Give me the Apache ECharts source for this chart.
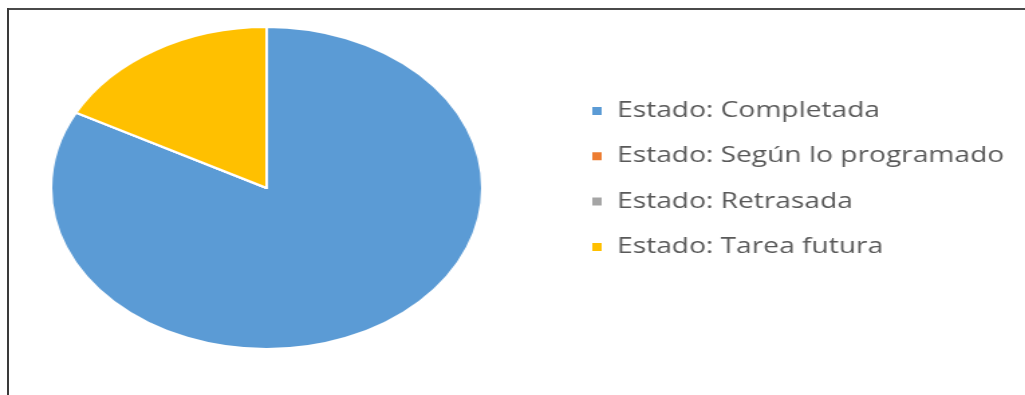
<!DOCTYPE html>
<html>
<head>
<meta charset="utf-8">
<script src="https://cdn.jsdelivr.net/npm/echarts@6/dist/echarts.min.js"></script>
<style>
  html, body { margin: 0; padding: 0; background: #fff; overflow: hidden; }
  #frame { position: absolute; left: 0; top: 0; width: 1025px; height: 395px; }
  #topLine { position: absolute; left: 8px; top: 8px; width: 1017px; height: 2px; background: #4a4a4a; }
  #leftLine { position: absolute; left: 7px; top: 8px; width: 2px; height: 387px; background: #3a3a3a; }
  /* chart is drawn narrower and widened horizontally, giving the elliptical pie */
  #chart { position: absolute; left: 0; top: 0; width: 765px; height: 395px;
           transform: scaleX(1.34); transform-origin: 0 0; }
</style>
</head>
<body>
<div id="frame">
  <div id="chart"></div>
  <div id="topLine"></div>
  <div id="leftLine"></div>
</div>
<script>
// Task status categories and counts
const categories = [
  'Estado: Completada',
  'Estado: Según lo programado',
  'Estado: Retrasada',
  'Estado: Tarea futura'
];
const values = [24, 0, 0, 5];
const colors = ['#5B9BD5', '#ED7D31', '#A5A5A5', '#FFC000'];

const chart = echarts.init(document.getElementById('chart'), null, { renderer: 'canvas' });

chart.setOption({
  animation: false,
  color: colors,
  legend: {
    orient: 'vertical',
    left: 440,
    top: 100,
    padding: 0,
    icon: 'rect',
    itemWidth: 9,
    itemHeight: 10,
    itemGap: 23.3,
    selectedMode: false,
    textStyle: {
      fontFamily: 'Open Sans',
      fontSize: 21,
      color: '#595959',
      lineHeight: 22,
      padding: [0, 0, 0, 5.5]
    },
    data: categories
  },
  series: [{
    type: 'pie',
    center: [199, 188],
    radius: 161,
    startAngle: 90,
    clockwise: true,
    label: { show: false },
    labelLine: { show: false },
    emphasis: { disabled: true },
    itemStyle: { borderColor: '#ffffff', borderWidth: 2 },
    data: categories.map((name, i) => ({ name: name, value: values[i] }))
  }]
});
</script>
</body>
</html>
